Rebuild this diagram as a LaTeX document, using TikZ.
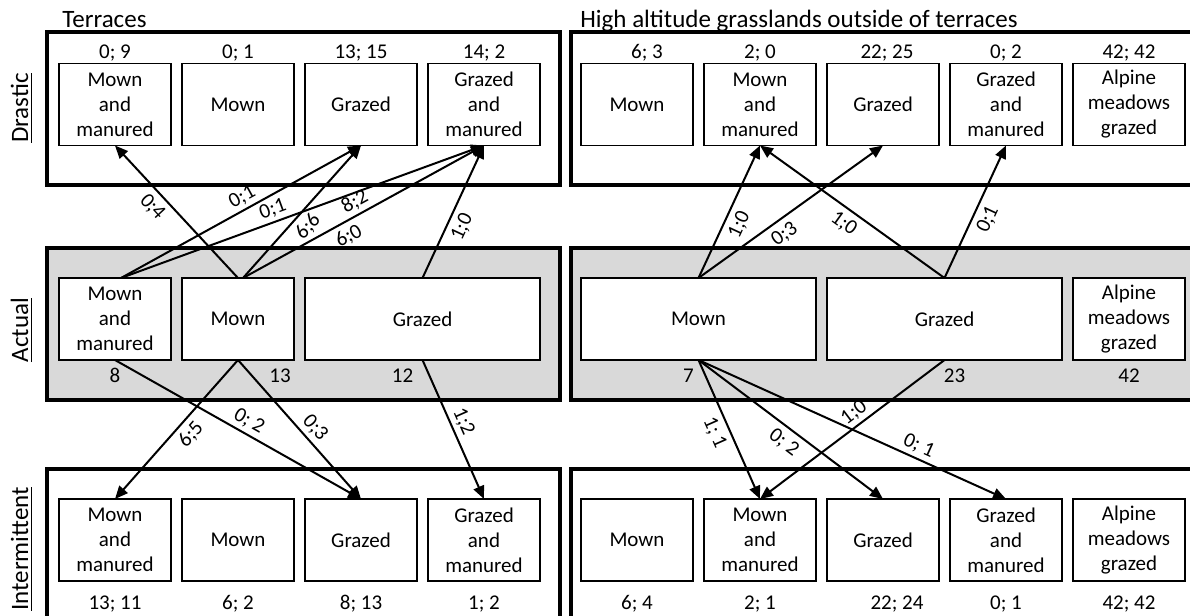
\documentclass[tikz,border=0pt]{standalone}
\usepackage{fontspec}
\setmainfont{Carlito}
\usepackage{tikz}
\usetikzlibrary{arrows.meta,positioning}
\definecolor{actgray}{RGB}{217,217,217}

\begin{document}
\fontsize{10.5}{12.5}\selectfont
\begin{tikzpicture}[x=0.5pt,y=-0.5pt,node distance=5.5pt,
  cell/.style={draw,line width=0.6pt,fill=white,minimum width=56pt,minimum height=41pt,inner sep=0pt,outer sep=0pt,align=center},
  widecell/.style={cell,minimum width=117.5pt},
  tally/.style={inner sep=0pt,text height=6.6pt,text depth=0pt},
  heading/.style={inner sep=0pt,font=\fontsize{12.5}{14}\selectfont},
  panel/.style={line width=1.7pt},
  change/.style={-{Triangle[length=6.5pt,width=5.5pt]},line width=1pt},
  changelbl/.style={sloped,inner sep=3pt,text height=6.6pt,text depth=0pt}]

\useasboundingbox (0,0) rectangle (1190,616);
\clip (0,0) rectangle (1190,616);

\node[heading,anchor=base west] (terr) at (62,27) {Terraces};
\node[heading,anchor=base west] (high) at (580,27) {High altitude grasslands outside of terraces};

\node[heading,rotate=90,anchor=base] (rdrastic) at (28,108) {\underline{Drastic}};
\node[heading,rotate=90,anchor=base] (ractual) at (28,330) {\underline{Actual}};
\node[heading,rotate=90,anchor=base] (rinter) at (28,549) {\underline{Intermittent}};

\draw[panel] (47,32) rectangle (560,185);
\draw[panel] (571,32) rectangle (1205,185);
\draw[panel,fill=actgray] (47,248) rectangle (560,400);
\draw[panel,fill=actgray] (571,248) rectangle (1205,400);
\draw[panel] (47,469) rectangle (560,622);
\draw[panel] (571,469) rectangle (1205,622);

\node[cell] (d1) at (115,104.5) {Mown\\and\\manured};
\node[cell,right=of d1] (d2) {Mown};
\node[cell,right=of d2] (d3) {Grazed};
\node[cell,right=of d3] (d4) {Grazed\\and\\manured};
\node[cell,right=20.5pt of d4] (dr1) {Mown};
\node[cell,right=of dr1] (dr2) {Mown\\and\\manured};
\node[cell,right=of dr2] (dr3) {Grazed};
\node[cell,right=of dr3] (dr4) {Grazed\\and\\manured};
\node[cell,right=of dr4] (dr5) {Alpine\\meadows\\grazed};

\node[tally,above=2.3pt of d1] (nd1) {0; 9};
\node[tally,above=2.3pt of d2] (nd2) {0; 1};
\node[tally,above=2.3pt of d3] (nd3) {13; 15};
\node[tally,above=2.3pt of d4] (nd4) {14; 2};
\node[tally,above=2.3pt of dr1,xshift=5pt] (ndr1) {6; 3};
\node[tally,above=2.3pt of dr2] (ndr2) {2; 0};
\node[tally,above=2.3pt of dr3,xshift=2pt] (ndr3) {22; 25};
\node[tally,above=2.3pt of dr4] (ndr4) {0; 2};
\node[tally,above=2.3pt of dr5] (ndr5) {42; 42};

\node[cell] (a1) at (115,319) {Mown\\and\\manured};
\node[cell,right=of a1] (a2) {Mown};
\node[widecell,right=of a2] (a3) {Grazed};
\node[widecell,right=20.5pt of a3] (ar1) {Mown};
\node[widecell,right=of ar1] (ar2) {Grazed};
\node[cell,right=of ar2] (ar3) {Alpine\\meadows\\grazed};

\node[tally,below=4.2pt of a1] (na1) {8};
\node[tally,below=4.2pt of a2,xshift=21pt] (na2) {13};
\node[tally,below=4.2pt of a3,xshift=-10pt] (na3) {12};
\node[tally,below=4.2pt of ar1,xshift=-5pt] (nar1) {7};
\node[tally,below=4.2pt of ar2,xshift=5pt] (nar2) {23};
\node[tally,below=4.2pt of ar3] (nar3) {42};

\node[cell] (i1) at (115,540) {Mown\\and\\manured};
\node[cell,right=of i1] (i2) {Mown};
\node[cell,right=of i2] (i3) {Grazed};
\node[cell,right=of i3] (i4) {Grazed\\and\\manured};
\node[cell,right=20.5pt of i4] (ir1) {Mown};
\node[cell,right=of ir1] (ir2) {Mown\\and\\manured};
\node[cell,right=of ir2] (ir3) {Grazed};
\node[cell,right=of ir3] (ir4) {Grazed\\and\\manured};
\node[cell,right=of ir4] (ir5) {Alpine\\meadows\\grazed};

\node[tally,below=7.2pt of i1] (ni1) {13; 11};
\node[tally,below=7.2pt of i2] (ni2) {6; 2};
\node[tally,below=7.2pt of i3] (ni3) {8; 13};
\node[tally,below=7.2pt of i4] (ni4) {1; 2};
\node[tally,below=7.2pt of ir1] (nir1) {6; 4};
\node[tally,below=7.2pt of ir2] (nir2) {2; 1};
\node[tally,below=7.2pt of ir3,xshift=7pt] (nir3) {22; 24};
\node[tally,below=7.2pt of ir4] (nir4) {0; 1};
\node[tally,below=7.2pt of ir5] (nir5) {42; 42};

\draw[change] (a2.north) to node[changelbl,pos=.61,below] {0;4} (d1.south);
\draw[change] ([xshift=3pt]a1.north) to node[changelbl,pos=.53,above] {0;1} (d3.south);
\draw[change] ([xshift=3pt]a1.north) to node[changelbl,pos=.43,above] {0;1} (d4.south);
\draw[change] ([xshift=2.5pt]a2.north) to node[changelbl,pos=.46,below] {6;6} (d3.south);
\draw[change] ([xshift=2.5pt]a2.north) to node[changelbl,pos=.49,above] {8;2} node[changelbl,pos=.41,below] {6;0} (d4.south);
\draw[change] (a3.north) to node[changelbl,pos=.43,below] {1;0} (d4.south);

\draw[change] (ar1.north) to node[changelbl,pos=.45,below] {1;0} (dr2.south);
\draw[change] (ar1.north) to node[changelbl,pos=.42,below] {0;3} (dr3.south);
\draw[change] (ar2.north) to node[changelbl,pos=.5,below] {1;0} (dr2.south);
\draw[change] (ar2.north) to node[changelbl,pos=.49,below] {0;1} (dr4.south);

\draw[change] (a1.south) to node[changelbl,pos=.52,above] {0; 2} (i3.north);
\draw[change] (a2.south) to node[changelbl,pos=.47,below] {6;5} (i1.north);
\draw[change] (a2.south) to node[changelbl,pos=.55,above] {0;3} (i3.north);
\draw[change] (a3.south) to node[changelbl,pos=.48,above] {1;2} (i4.north);

\draw[change] (ar1.south) to node[changelbl,pos=.48,below] {1; 1} (ir2.north);
\draw[change] (ar1.south) to node[changelbl,pos=.51,below] {0; 2} (ir3.north);
\draw[change] (ar1.south) to node[changelbl,pos=.7,above] {0; 1} (ir4.north);
\draw[change] (ar2.south) to node[changelbl,pos=.45,above] {1;0} (ir2.north);

\end{tikzpicture}
\end{document}
